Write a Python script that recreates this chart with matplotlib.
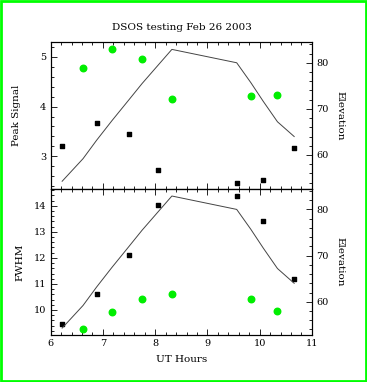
import matplotlib
matplotlib.use("Agg")
import matplotlib.pyplot as plt
from matplotlib.patches import Rectangle
from matplotlib.ticker import MultipleLocator

# UT hours of each exposure (squares / circles are alternating runs)
sqHours = [6.22, 6.88, 7.50, 8.05, 9.56, 10.07, 10.66]
circHours = [6.62, 7.17, 7.75, 8.32, 9.83, 10.34]

peakSq = [3.20, 3.68, 3.44, 2.72, 2.46, 2.52, 3.17]
peakCirc = [4.78, 5.15, 4.96, 4.15, 4.21, 4.23]

fwhmSq = [9.46, 10.60, 12.10, 14.03, 14.37, 13.42, 11.19]
fwhmCirc = [9.27, 9.91, 10.43, 10.60, 10.43, 9.97]

elevHours = [6.22, 6.62, 6.88, 7.17, 7.50, 7.75, 8.05, 8.32, 9.56, 9.83, 10.07, 10.34, 10.66]
elevation = [54.3, 59.2, 63.2, 67.4, 72.0, 75.5, 79.4, 82.9, 80.0, 75.7, 71.6, 67.2, 64.0]

plt.rcParams["font.family"] = ["DejaVu Serif"]
plt.rcParams["font.size"] = 7

fig = plt.figure(figsize=(3.67, 3.82), dpi=100)
fig.patches.append(Rectangle((0.003, 0.003), 0.994, 0.994, transform=fig.transFigure,
                             fill=False, edgecolor="#00ff00", linewidth=2.0))

left = 0.138
width = 0.712
axTop = fig.add_axes([left, 0.505, width, 0.385])
axBot = fig.add_axes([left, 0.123, width, 0.382])


def style_ticks(ax, right=False):
    ax.tick_params(which="both", direction="in", top=True, bottom=True,
                   left=not right, right=right, width=0.6, colors="black", pad=3)
    ax.tick_params(which="major", length=4)
    ax.tick_params(which="minor", length=2)
    for s in ax.spines.values():
        s.set_linewidth(0.8)


def panel(ax, ySq, yCirc, ylim, yname, labelX, elevLim):
    ax.scatter(sqHours, ySq, marker="s", s=10, color="black", zorder=3)
    ax.scatter(circHours, yCirc, marker="o", s=22, color="#00ee00", zorder=3)
    ax.set_xlim(6, 11)
    ax.set_ylim(*ylim)
    ax.xaxis.set_major_locator(MultipleLocator(1))
    ax.xaxis.set_minor_locator(MultipleLocator(0.2))
    ax.yaxis.set_major_locator(MultipleLocator(1))
    ax.yaxis.set_minor_locator(MultipleLocator(0.2))
    ax.set_ylabel(yname, fontsize=7.5, va="center")
    ax.yaxis.set_label_coords(labelX, 0.5)
    style_ticks(ax)

    ax2 = ax.twinx()
    ax2.plot(elevHours, elevation, color="#444444", linewidth=0.7)
    ax2.set_ylim(*elevLim)
    ax2.yaxis.set_major_locator(MultipleLocator(10))
    ax2.yaxis.set_minor_locator(MultipleLocator(2))
    ax2.set_ylabel("Elevation", fontsize=7.5, rotation=270, va="center")
    ax2.yaxis.set_label_coords(1.107, 0.5)
    style_ticks(ax2, right=True)
    return ax2


panel(axTop, peakSq, peakCirc, (2.34, 5.30), "Peak Signal", -0.129, (52.6, 84.5))
panel(axBot, fwhmSq, fwhmCirc, (9.04, 14.64), "FWHM", -0.117, (52.8, 84.4))

axTop.tick_params(labelbottom=False)
axBot.set_xlabel("UT Hours", fontsize=7.5, labelpad=5)

fig.text(0.497, 0.929, "DSOS testing Feb 26 2003", ha="center", va="center", fontsize=7.5)

plt.savefig("out.png", dpi=100)
